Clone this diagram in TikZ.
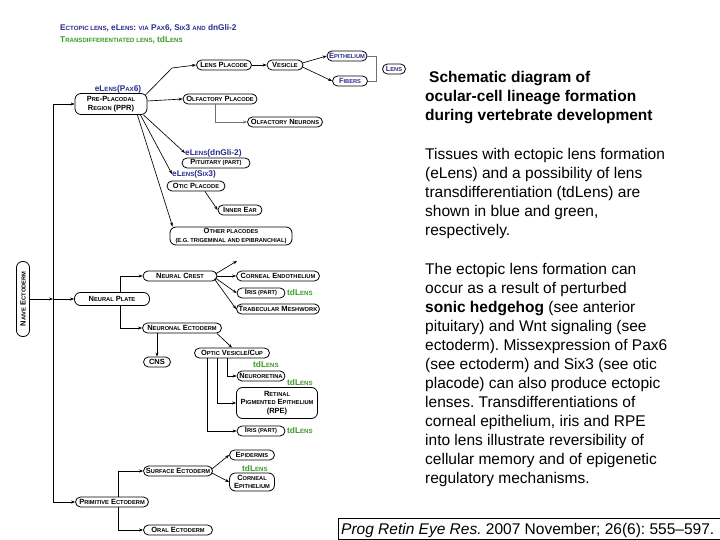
\documentclass[tikz,border=0pt]{standalone}
\usepackage{fontspec}
\setmainfont{Liberation Sans}
\usetikzlibrary{arrows.meta,calc}
\definecolor{eblue}{HTML}{2B2B8F}
\definecolor{tdgreen}{HTML}{3A9A28}
\definecolor{lgray}{HTML}{707070}
\newcommand\sk[1]{{\fontsize{5.7}{6}\selectfont #1}}
\newcommand\skl[1]{{\fontsize{6.1}{7}\selectfont #1}}
\newcommand\skt[1]{{\fontsize{6.1}{7}\selectfont #1}}
\begin{document}
\frenchspacing
\begin{tikzpicture}[x=1pt,y=-1pt,
 box/.style={draw, line width=0.8pt, rounded corners=5pt, inner xsep=2pt, inner ysep=1pt, minimum height=10pt, align=center, font=\fontsize{7.5}{8.5}\selectfont\bfseries},
 arr/.style={-{Stealth[length=4pt,width=3pt]}, line width=0.65pt},
 lnk/.style={line width=0.65pt},
 elab/.style={text=eblue, font=\fontsize{8.3}{10}\selectfont\bfseries, inner sep=0pt},
 tdlab/.style={text=tdgreen, font=\fontsize{8.3}{10}\selectfont\bfseries, inner sep=0pt},
 body/.style={anchor=base west, inner sep=0pt, font=\fontsize{15.5}{19}\selectfont\frenchspacing}
]
\useasboundingbox (0,0) rectangle (720,540);
\fill[white] (0,0) rectangle (720,540);

% titles
\node[anchor=west, inner sep=0pt, text=eblue, font=\fontsize{8.3}{9}\selectfont\bfseries] (title1) at (60,28)
 {E\skt{CTOPIC LENS}, eL\skt{ENS}: \skt{VIA} P\skt{AX}6, S\skt{IX}3 \skt{AND} dnGli-2};
\node[anchor=west, inner sep=0pt, text=tdgreen, font=\fontsize{8.3}{9}\selectfont\bfseries] (title2) at (60,40)
 {T\skt{RANSDIFFERENTIATED LENS}, tdL\skt{ENS}};

% nodes
\node[box, minimum width=55pt] (lp) at (224,65) {L\sk{ENS} P\sk{LACODE}};
\node[box, minimum width=36pt] (ves) at (285,65) {V\sk{ESICLE}};
\node[box, minimum width=40pt, text=eblue] (epi) at (347,56) {E\sk{PITHELIUM}};
\node[box, minimum width=35pt, text=eblue] (fib) at (350,81) {F\sk{IBERS}};
\node[box, minimum width=23pt, text=eblue] (lens) at (394,69) {L\sk{ENS}};
\node[box, minimum width=72pt, minimum height=21pt, rounded corners=6pt] (ppr) at (111,104) {P\sk{RE}-P\sk{LACODAL}\\R\sk{EGION} (PPR)};
\node[box, minimum width=74pt] (op) at (220,99) {O\sk{LFACTORY} P\sk{LACODE}};
\node[box, minimum width=75pt] (on) at (285,122) {O\sk{LFACTORY} N\sk{EURONS}};
\node[box, minimum width=68pt] (pit) at (216,163) {P\sk{ITUITARY (PART)}};
\node[box, minimum width=58pt] (otic) at (196,186) {O\sk{TIC} P\sk{LACODE}};
\node[box, minimum width=44pt] (ie) at (240,210) {I\sk{NNER} E\sk{AR}};
\node[box, minimum width=122pt, minimum height=18pt, rounded corners=6pt] (oth) at (231,236) {O\sk{THER PLACODES}\\\sk{(E.G. TRIGEMINAL AND EPIBRANCHIAL)}};
\node[box, rotate=90, minimum width=75pt, minimum height=13pt, rounded corners=6pt] (naive) at (23,299) {N\sk{AIVE} E\sk{CTODERM}};
\node[box, minimum width=75pt, minimum height=13pt, rounded corners=6pt] (np) at (112,299) {N\sk{EURAL} P\sk{LATE}};
\node[box, minimum width=74pt] (nc) at (180,276) {N\sk{EURAL} C\sk{REST}};
\node[box, minimum width=83pt] (ce) at (278,276) {C\sk{ORNEAL} E\sk{NDOTHELIUM}};
\node[box, minimum width=48pt] (iris) at (261,293) {I\sk{RIS (PART)}};
\node[box, minimum width=83pt] (tm) at (278,309) {T\sk{RABECULAR} M\sk{ESHWORK}};
\node[box, minimum width=79pt] (ne) at (182,328) {N\sk{EURONAL} E\sk{CTODERM}};
\node[box, minimum width=27pt] (cns) at (157,362) {CNS};
\node[box, minimum width=75pt] (ovc) at (232,353) {O\sk{PTIC} V\sk{ESICLE}/C\sk{UP}};
\node[box, minimum width=48pt] (nr) at (261,376) {N\sk{EURORETINA}};
\node[box, minimum width=81pt, minimum height=31pt, rounded corners=6pt] (rpe) at (277,403) {R\sk{ETINAL}\\P\sk{IGMENTED} E\sk{PITHELIUM}\\(RPE)};
\node[box, minimum width=48pt] (iris2) at (261,431) {I\sk{RIS (PART)}};
\node[box, minimum width=69pt] (se) at (178,471) {S\sk{URFACE} E\sk{CTODERM}};
\node[box, minimum width=45pt] (epid) at (252,455) {E\sk{PIDERMIS}};
\node[box, minimum width=45pt, minimum height=18pt, rounded corners=6pt] (cepi) at (252,482) {C\sk{ORNEAL}\\E\sk{PITHELIUM}};
\node[box, minimum width=73pt] (prim) at (112,502) {P\sk{RIMITIVE} E\sk{CTODERM}};
\node[box, minimum width=69pt] (oe) at (178,530) {O\sk{RAL} E\sk{CTODERM}};

% labels
\node[elab] (lpax) at (118,89) {eL\skl{ENS}(P\skl{AX}6)};
\node[elab, anchor=west] (lgli) at (185,153) {eL\skl{ENS}(dnGli-2)};
\node[elab, anchor=west] (lsix) at (172,174) {eL\skl{ENS}(S\skl{IX}3)};
\node[tdlab, anchor=west] (td1) at (287,293) {tdL\skl{ENS}};
\node[tdlab, anchor=west] (td2) at (253,365) {tdL\skl{ENS}};
\node[tdlab, anchor=west] (td3) at (287,383) {tdL\skl{ENS}};
\node[tdlab, anchor=west] (td4) at (287,431) {tdL\skl{ENS}};
\node[tdlab, anchor=west] (td5) at (242,469) {tdL\skl{ENS}};

% trunk
\coordinate (t1) at (53,104);
\coordinate (t2) at (53,299);
\coordinate (t3) at (53,502);
\draw[lnk] (t1) -- (t3);
\draw[arr] (t1) -- (ppr.west);
\draw[arr] (naive.south) -- (t2);
\draw[arr] (t2) -- (np.west);
\draw[arr] (t3) -- (prim.west);

% PPR branch
\coordinate (k1) at (172,68);
\draw[arr] ($(ppr.north east)+(-2,2)$) -- (k1) -- (lp.west);
\draw[arr] ($(ppr.east)+(0,-3)$) -- (op.west);
\draw[arr] (lp) -- (ves);
\draw[arr] ($(ves.east)+(-1,-2)$) -- (epi.west);
\draw[arr] ($(ves.east)+(-1,2)$) -- (fib.west);
\draw[lnk, lgray] (epi.east) -- ++(9,0) |- (fib.east);
\draw[arr, lgray] ($(op.south)+(-5,0)$) |- (on.west);
\draw[arr] ($(ppr.south east)+(-4,0)$) -- (lgli.west);
\draw[arr] ($(ppr.south east)+(-7,0)$) -- (lsix.west);
\draw[arr] ($(ppr.south east)+(-10,0)$) -- ($(oth.north west)+(3,0)$);
\draw[arr] ($(otic.south)+(9,0)$) -- (ie.west);

% neural plate branch
\coordinate (up) at (237,261);
\draw[arr] ($(np.north)+(8,0)$) |- (nc.west);
\draw[arr] ($(np.south)+(8,0)$) |- (ne.west);
\draw[arr] ($(nc.east)+(-2,-2)$) -- (up);
\draw[arr] (nc.east) -- (ce.west);
\draw[arr] ($(nc.east)+(-2,2)$) -- (iris.west);
\draw[arr] ($(nc.east)+(-3,3)$) -- (tm.west);
\draw[arr] (cns.north |- ne.south) -- (cns.north);
\draw[arr] ($(ne.south east)+(-5,0)$) -- (ovc.north);
\draw[arr] ($(ovc.south)+(-5,0)$) |- (nr.west);
\draw[arr] ($(ovc.south)+(-15,0)$) |- (rpe.west);
\draw[arr] ($(ovc.south)+(-25,0)$) |- (iris2.west);

% primitive ectoderm branch
\draw[arr] ($(prim.north)+(6,0)$) |- (se.west);
\draw[arr] ($(prim.south)+(6,0)$) |- (oe.west);
\draw[arr] ($(se.east)+(-1,-2)$) -- (epid.west);
\draw[arr] ($(se.east)+(-1,2)$) -- (cepi.west);

% body text
\node[body] (b1) at (429,83) {\bfseries Schematic diagram of};
\node[body] (b2) at (425,102) {\bfseries ocular-cell lineage formation};
\node[body] (b3) at (425,121) {\bfseries during vertebrate development};
\node[body] (b4) at (425,160) {Tissues with ectopic lens formation};
\node[body] (b5) at (425,179) {(eLens) and a possibility of lens};
\node[body] (b6) at (425,198) {transdifferentiation (tdLens) are};
\node[body] (b7) at (425,217) {shown in blue and green,};
\node[body] (b8) at (425,236) {respectively.};
\node[body] (b9) at (425,274) {The ectopic lens formation can};
\node[body] (b10) at (425,293) {occur as a result of perturbed};
\node[body] (b11) at (425,312) {\textbf{sonic hedgehog} (see anterior};
\node[body] (b12) at (425,331) {pituitary) and Wnt signaling (see};
\node[body] (b13) at (425,350) {ectoderm). Missexpression of Pax6};
\node[body] (b14) at (425,369) {(see ectoderm) and Six3 (see otic};
\node[body] (b15) at (425,388) {placode) can also produce ectopic};
\node[body] (b16) at (425,407) {lenses. Transdifferentiations of};
\node[body] (b17) at (425,426) {corneal epithelium, iris and RPE};
\node[body] (b18) at (425,445) {into lens illustrate reversibility of};
\node[body] (b19) at (425,464) {cellular memory and of epigenetic};
\node[body] (b20) at (425,483) {regulatory mechanisms.};

% citation
\draw[line width=0.6pt] (338,518) rectangle (722,539);
\node[body] (cite) at (341,534) {\textit{Prog Retin Eye Res.} 2007 November; 26(6): 555--597.};
\end{tikzpicture}
\end{document}
